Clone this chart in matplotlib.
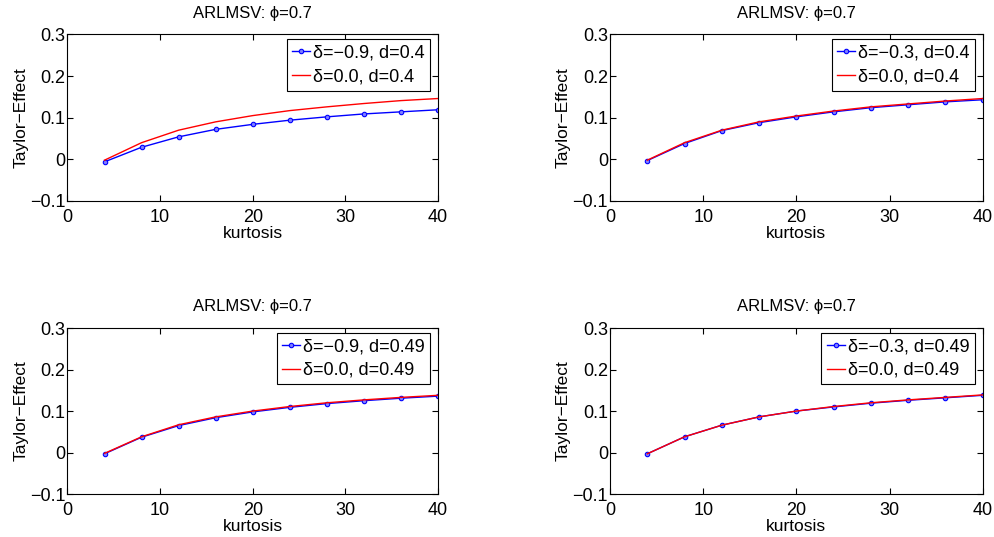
import numpy as np
import matplotlib
matplotlib.use("Agg")
import matplotlib.pyplot as plt

plt.rcParams['font.family'] = ['Liberation Sans', 'DejaVu Sans']
plt.rcParams['axes.unicode_minus'] = True

# ---------- dados ----------
kurtosis = [4, 8, 12, 16, 20, 24, 28, 32, 36, 40]

te_a_blue = [-0.006, 0.029, 0.054, 0.072, 0.084, 0.094, 0.102, 0.109, 0.114, 0.119]
te_a_red = [-0.002, 0.040, 0.070, 0.090, 0.105, 0.117, 0.126, 0.134, 0.141, 0.146]

te_b_blue = [-0.003, 0.038, 0.069, 0.088, 0.102, 0.114, 0.124, 0.131, 0.138, 0.143]
te_b_red = [-0.002, 0.040, 0.070, 0.090, 0.104, 0.116, 0.126, 0.133, 0.140, 0.146]

te_c_blue = [-0.003, 0.037, 0.065, 0.084, 0.098, 0.109, 0.118, 0.125, 0.131, 0.136]
te_c_red = [-0.002, 0.038, 0.067, 0.086, 0.100, 0.111, 0.120, 0.127, 0.133, 0.138]

te_d_blue = [-0.003, 0.038, 0.066, 0.086, 0.100, 0.110, 0.119, 0.126, 0.132, 0.138]
te_d_red = [-0.003, 0.038, 0.066, 0.086, 0.100, 0.111, 0.120, 0.127, 0.133, 0.139]

labels_blue = ['δ=−0.9, d=0.4', 'δ=−0.3, d=0.4', 'δ=−0.9, d=0.49', 'δ=−0.3, d=0.49']
labels_red = ['δ=0.0, d=0.4', 'δ=0.0, d=0.4', 'δ=0.0, d=0.49', 'δ=0.0, d=0.49']

xticks = [0, 10, 20, 30, 40]
yticks = [-0.1, 0, 0.1, 0.2, 0.3]
yticklabels = ['−0.1', '0', '0.1', '0.2', '0.3']

title = 'ARLMSV: ϕ=0.7'

# ---------- figura ----------
fig = plt.figure(figsize=(9.95, 5.37), dpi=100)
positions = [
    [0.0678, 0.6257, 0.3724, 0.3103],
    [0.6131, 0.6257, 0.3745, 0.3103],
    [0.0678, 0.0800, 0.3724, 0.3090],
    [0.6131, 0.0800, 0.3745, 0.3090],
]
series = [(te_a_blue, te_a_red), (te_b_blue, te_b_red),
          (te_c_blue, te_c_red), (te_d_blue, te_d_red)]

for i, pos in enumerate(positions):
    ax = fig.add_axes(pos)
    blue, red = series[i]
    ax.plot(kurtosis, blue, '-o', color='blue', lw=1, ms=3.2,
            mfc='#7f7fff', mec='blue', mew=0.8, label=labels_blue[i])
    ax.plot(kurtosis, red, '-', color='red', lw=1, label=labels_red[i])
    ax.set_xlim(0, 40)
    ax.set_ylim(-0.1, 0.3)
    ax.set_xticks(xticks)
    ax.set_yticks(yticks)
    ax.set_yticklabels(yticklabels)
    ax.tick_params(direction='in', top=True, right=True, length=4,
                   labelsize=13)
    ax.tick_params(axis='x', pad=5.5)
    ax.tick_params(axis='y', pad=1.5)
    ax.set_xlabel('kurtosis', fontsize=12.5, labelpad=0)
    ax.set_ylabel('Taylor−Effect', fontsize=12.5, labelpad=1)
    ax.set_title(title, fontsize=12, pad=12)
    w_px = pos[2] * 995
    h_px = pos[3] * 537
    leg = ax.legend(loc='upper right', fontsize=13, frameon=True,
                    fancybox=False, edgecolor='black', framealpha=1,
                    bbox_to_anchor=(1 - 8 / w_px, 1 - 5 / h_px),
                    borderaxespad=0, borderpad=0.3, labelspacing=0.35,
                    handlelength=1.0, handletextpad=0.15)
    leg.get_frame().set_linewidth(0.8)
    for s in ax.spines.values():
        s.set_linewidth(0.8)

fig.savefig('out.png', dpi=100)
